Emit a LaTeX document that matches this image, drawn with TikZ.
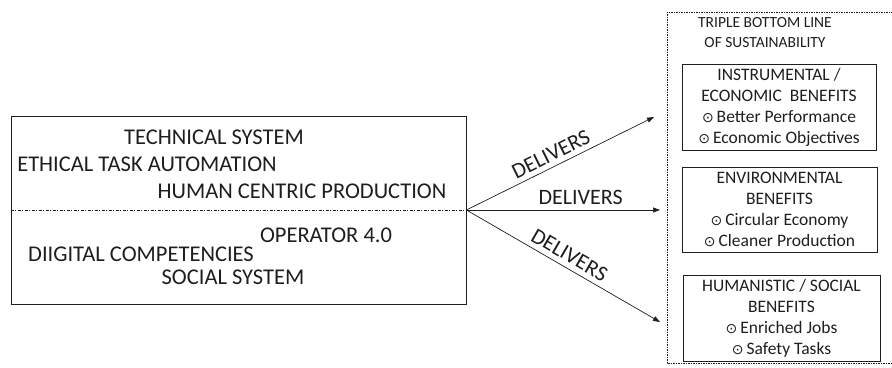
\documentclass[tikz,border=0pt]{standalone}
\usepackage{fontspec}
\setmainfont{Carlito}
\newfontfamily\symfont{DejaVu Sans}
\usetikzlibrary{arrows.meta}
\definecolor{ink}{RGB}{30,30,30}
\newcommand\tbul{{\symfont\fontsize{14}{14}\selectfont ⊙}\kern3pt}
\begin{document}
\begin{tikzpicture}[x=1pt,y=-1pt,
  txt/.style={inner sep=0pt, font=\fontsize{22.5}{27}\selectfont, text=ink},
  bigbox/.style={draw=ink, line width=0.8pt, inner sep=0pt},
  benbox/.style={draw=ink, line width=0.8pt, align=center, inner sep=0pt, font=\fontsize{17.5}{21}\selectfont, text=ink},
  arr/.style={-{Triangle[length=7pt,width=5pt]}, line width=0.7pt, draw=ink},
  lab/.style={sloped, above, font=\fontsize{22}{26}\selectfont, text=ink, inner sep=5pt}]
\useasboundingbox (0,0) rectangle (892,367);
% left system box
\node[bigbox, minimum width=455pt, minimum height=188pt] (sys) at (238.5,210) {};
\draw[ink, line width=0.6pt, dash pattern=on 3pt off 1.5pt on 1pt off 1.5pt] (sys.west) -- (sys.east);
\node[txt] (tech) at (214,137) {TECHNICAL SYSTEM};
\node[txt] (eth) at (147,164) {ETHICAL TASK AUTOMATION};
\node[txt] (hcp) at (302,191) {HUMAN CENTRIC PRODUCTION};
\node[txt] (op) at (326,235) {OPERATOR 4.0};
\node[txt] (dig) at (141,254) {DIIGITAL COMPETENCIES};
\node[txt] (soc) at (233,277) {SOCIAL SYSTEM};
% outer dashed frame
\coordinate (oTL) at (667,12);
\coordinate (oBL) at (667,363);
\coordinate (oTR) at (900,12);
\coordinate (oBR) at (900,363);
\draw[ink, line width=0.6pt, dash pattern=on 1.5pt off 1pt] (oTR) -- (oTL) -- (oBL) -- (oBR);
\node[txt, font=\fontsize{15.5}{20}\selectfont, align=center] (tbl) at (765,33) {TRIPLE BOTTOM LINE\\OF SUSTAINABILITY};
% benefit boxes
\node[benbox, minimum width=194pt, minimum height=86pt] (b1) at (779,107) {INSTRUMENTAL /\\ECONOMIC\ \ BENEFITS\\\tbul Better Performance\\\tbul Economic Objectives};
\node[benbox, minimum width=195pt, minimum height=85pt] (b2) at (779.5,209.5) {ENVIRONMENTAL\\BENEFITS\\\tbul Circular Economy\\\tbul Cleaner Production};
\node[benbox, minimum width=197pt, minimum height=86pt] (b3) at (781.5,318) {HUMANISTIC / SOCIAL\\BENEFITS\\\tbul Enriched Jobs\\\tbul Safety Tasks};
% arrows
\coordinate (t1) at (654,117);
\coordinate (t2) at (660,210);
\coordinate (t3) at (660,322);
\draw[arr] (sys.east) -- node[lab, pos=0.48]{DELIVERS} (t1);
\draw[arr] (sys.east) -- node[lab, pos=0.59]{DELIVERS} (t2);
\draw[arr] (sys.east) -- node[lab, pos=0.5]{DELIVERS} (t3);
\end{tikzpicture}
\end{document}
